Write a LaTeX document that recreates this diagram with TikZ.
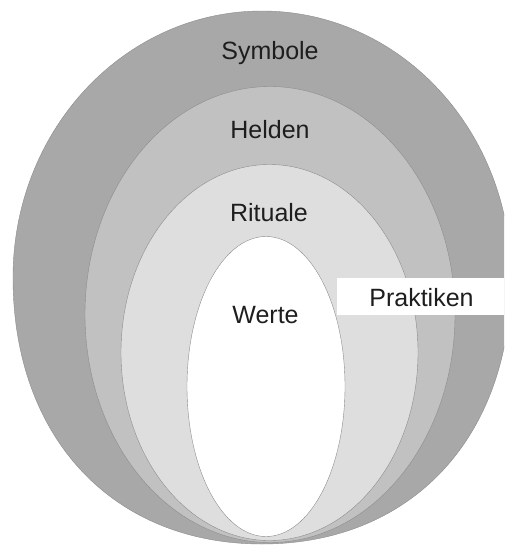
\documentclass[tikz,border=0pt]{standalone}
\usepackage{fontspec}
\setmainfont{Liberation Sans}
\definecolor{ringA}{RGB}{168,168,168}
\definecolor{ringB}{RGB}{193,193,193}
\definecolor{ringC}{RGB}{222,222,222}
\definecolor{rimline}{RGB}{140,140,140}
\definecolor{labeltext}{RGB}{30,30,30}
\begin{document}
\begin{tikzpicture}[x=1pt,y=-1pt,
  ring/.style={draw=rimline,line width=0.4pt},
  lbl/.style={anchor=base,inner sep=0pt,text=labeltext,font=\fontsize{25}{30}\selectfont}]
\useasboundingbox (0,0) rectangle (504,546);
\fill[white] (0,0) rectangle (504,546);
\clip (0,0) rectangle (504,546);
% outer layer: slightly fuller towards the bottom
\path[ring,fill=ringA] (262,11)
  .. controls (399.5,11) and (511,130) .. (511,277.5)
  .. controls (511,437.4) and (411.4,544) .. (262,544)
  .. controls (112.6,544) and (13,437.4) .. (13,277.5)
  .. controls (13,130) and (124.5,11) .. cycle;
% inner layers
\path[ring,fill=ringB] (270,314.5) ellipse [x radius=185pt,y radius=228pt];
\path[ring,fill=ringC] (269.5,352.5) ellipse [x radius=148.5pt,y radius=188pt];
\path[ring,fill=white] (266,386.5) ellipse [x radius=79pt,y radius=150pt];
% side label box
\fill[white] (337,278) rectangle (510,315);
% labels
\node[lbl] (symbole) at (270,59) {Symbole};
\node[lbl] (helden) at (270,138) {Helden};
\node[lbl] (rituale) at (269,221) {Rituale};
\node[lbl] (werte) at (265.5,323) {Werte};
\node[lbl] (praktiken) at (421.5,306) {Praktiken};
\end{tikzpicture}
\end{document}
